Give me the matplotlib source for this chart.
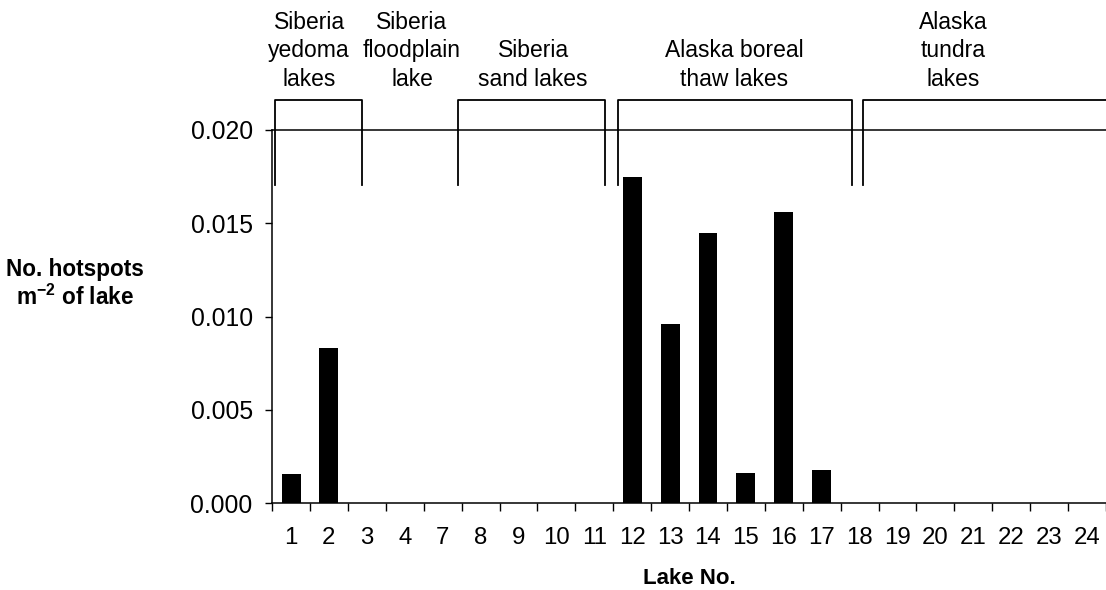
import matplotlib
matplotlib.use('Agg')
import matplotlib.pyplot as plt
import numpy as np

plt.rcParams['font.family'] = ['Liberation Sans', 'DejaVu Sans']
plt.rcParams['mathtext.fontset'] = 'custom'
plt.rcParams['mathtext.rm'] = 'Liberation Sans'
plt.rcParams['mathtext.bf'] = 'Liberation Sans:bold'

# DATA
lakes = ['1', '2', '3', '4', '7', '8', '9', '10', '11', '12', '13', '14',
         '15', '16', '17', '18', '19', '20', '21', '22', '23', '24']
hotspots = [0.00155, 0.0083, 0, 0, 0, 0, 0, 0, 0, 0.01748, 0.0096, 0.01448,
            0.0016, 0.0156, 0.00177, 0, 0, 0, 0, 0, 0, 0]

groups = ['Siberia\nyedoma\nlakes', 'Siberia\nfloodplain\nlake', 'Siberia\nsand lakes',
          'Alaska boreal\nthaw lakes', 'Alaska\ntundra\nlakes']
# label centre (in lake-index units) and bracket edges (None = no bracket)
group_pos = [0.48, 3.19, 6.39, 11.7, 17.47]
group_brackets = [(-0.42, 1.87), None, (4.41, 8.29), (8.63, 14.8), (15.09, 21.6)]

fig = plt.figure(figsize=(11.06, 5.9), dpi=100)
ax = fig.add_axes([0.246, 0.147, 0.754, 0.6328])

x = np.arange(len(lakes))
ax.bar(x, hotspots, width=0.5, color='black')

ax.set_xlim(-0.5, len(lakes) - 0.5)
ax.set_ylim(0, 0.020)
ax.set_yticks([0, 0.005, 0.010, 0.015, 0.020])
ax.set_yticklabels(['0.000', '0.005', '0.010', '0.015', '0.020'], fontsize=17.8)

# ticks between categories, labels at the centres
ax.set_xticks(np.arange(len(lakes) + 1) - 0.5)
ax.set_xticklabels([])
ax.set_xticks(x, minor=True)
ax.set_xticklabels(lakes, minor=True, fontsize=17.3)
ax.tick_params(axis='x', which='major', direction='out', length=6, width=1)
ax.tick_params(axis='x', which='minor', length=0, pad=17)
ax.tick_params(axis='y', direction='out', length=5, width=1, pad=9)

ax.spines['right'].set_visible(False)
for s in ['left', 'bottom', 'top']:
    ax.spines[s].set_linewidth(1.1)

ax.set_xlabel('Lake No.', fontsize=16, fontweight='bold', labelpad=14)
fig.text(0.068, 0.519, 'No. hotspots\nm$^{\\mathbf{-2}}$ of lake', fontsize=16.3,
         fontweight='bold', ha='center', va='center', linespacing=1.15)

# group brackets above the plot
top = 0.0216
bot = 0.01705
for pos, name, br in zip(group_pos, groups, group_brackets):
    if br is not None:
        left, right = br
        ax.plot([left, left, right, right], [bot, top, top, bot], color='black',
                lw=1.3, clip_on=False)
    ax.text(pos, 0.0221, name, ha='center', va='bottom', fontsize=16.5,
            linespacing=1.3)

fig.savefig('out.png', dpi=100)
